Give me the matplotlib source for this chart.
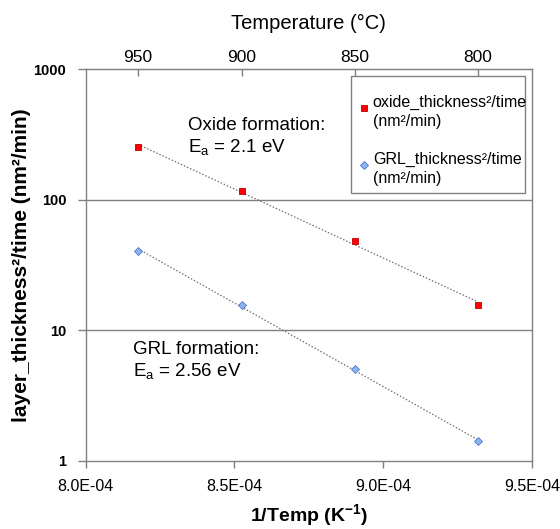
import numpy as np
import matplotlib
matplotlib.use("Agg")
import matplotlib.pyplot as plt
from matplotlib.ticker import FixedLocator, FuncFormatter, NullLocator
from matplotlib.patches import Rectangle

plt.rcParams['font.family'] = ['Liberation Sans', 'DejaVu Sans']
plt.rcParams['mathtext.fontset'] = 'custom'
plt.rcParams['mathtext.rm'] = 'Liberation Sans'
plt.rcParams['mathtext.bf'] = 'Liberation Sans:bold'

# ---- data ----
temps_c = [950, 900, 850, 800]
inv_temp = [1.0 / (t + 273.15) for t in temps_c]
oxide_rate = [255, 117, 48.3, 15.7]
grl_rate = [40.7, 15.6, 5.05, 1.41]
y_ticks = [1, 10, 100, 1000]
x_ticks = [8.0e-4, 8.5e-4, 9.0e-4, 9.5e-4]
top_ticks = [950, 900, 850, 800]

gray = '#808080'

fig = plt.figure(figsize=(5.6, 5.29), dpi=100)
ax = fig.add_axes([0.153, 0.129, 0.797, 0.740])

ax.set_yscale('log')
ax.set_ylim(1, 1000)
ax.set_xlim(8.0e-4, 9.5e-4)

# trend lines (exponential fits)
xs = np.array(inv_temp)
for vals in (oxide_rate, grl_rate):
    p = np.polyfit(xs, np.log(vals), 1)
    xx = np.linspace(xs.min(), xs.max(), 50)
    ax.plot(xx, np.exp(np.polyval(p, xx)), color='#707070', lw=0.9,
            linestyle=(0, (1.2, 1.5)), zorder=2)

ax.plot(inv_temp, oxide_rate, linestyle='none', marker='s', markersize=5,
        markerfacecolor='#ff0000', markeredgecolor='#c00000', markeredgewidth=0.6,
        label='oxide_thickness²/time\n(nm²/min)', zorder=3)
ax.plot(inv_temp, grl_rate, linestyle='none', marker='D', markersize=4.2,
        markerfacecolor='#8eb4f0', markeredgecolor='#4a78d0', markeredgewidth=0.6,
        label='GRL_thickness²/time\n(nm²/min)', zorder=3)

# grid lines
for yv in (10, 100):
    ax.axhline(yv, color=gray, lw=1.0, zorder=1)

for s in ax.spines.values():
    s.set_color(gray)
    s.set_linewidth(1.0)

ax.yaxis.set_major_locator(FixedLocator(y_ticks))
ax.yaxis.set_minor_locator(NullLocator())
ax.yaxis.set_major_formatter(FuncFormatter(lambda v, p: f"{int(round(v))}"))
ax.xaxis.set_major_locator(FixedLocator(x_ticks))
ax.xaxis.set_major_formatter(FuncFormatter(lambda v, p: f"{v*1e4:.1f}E-04"))
ax.tick_params(axis='both', color=gray, width=1.0, direction='out')
ax.tick_params(axis='y', labelsize=10.5, length=6, pad=8)
ax.tick_params(axis='x', labelsize=11.5, length=5, pad=8)
for lab in ax.get_yticklabels():
    lab.set_fontweight('bold')

ax.set_ylabel('layer_thickness²/time (nm²/min)', fontsize=15, fontweight='bold', labelpad=2)
ax.set_xlabel(r'1/Temp (K$^{\mathbf{-1}}$)', fontsize=14, fontweight='bold', labelpad=6)

# top axis (temperature)
sec = ax.secondary_xaxis('top', functions=(lambda x: 1.0 / np.asarray(x, float) - 273.15,
                                           lambda t: 1.0 / (np.asarray(t, float) + 273.15)))
sec.xaxis.set_major_locator(FixedLocator(top_ticks))
sec.xaxis.set_minor_locator(NullLocator())
sec.tick_params(axis='x', color=gray, length=5, width=1.0, direction='in', labelsize=12.5, pad=3)
sec.spines['top'].set_color(gray)
sec.set_xlabel('Temperature (°C)', fontsize=14.5, labelpad=15)

# annotations
ax.text(0.23, 0.877, 'Oxide formation:\nE$_{\\mathregular{a}}$ = 2.1 eV', transform=ax.transAxes,
        fontsize=13.5, va='top', ha='left', linespacing=1.25)
ax.text(0.105, 0.306, 'GRL formation:\nE$_{\\mathregular{a}}$ = 2.56 eV', transform=ax.transAxes,
        fontsize=13.5, va='top', ha='left', linespacing=1.25)

# legend frame drawn as a box, entries via legend
ax.add_patch(Rectangle((0.594, 0.684), 0.390, 0.299, transform=ax.transAxes,
                       facecolor='white', edgecolor=gray, lw=1.0, zorder=4))
leg = ax.legend(loc='upper left', bbox_to_anchor=(0.594, 0.954), frameon=False,
                fontsize=11.5, handlelength=0.6, handletextpad=0.28, borderpad=0.5,
                labelspacing=1.45, handleheight=2.6, borderaxespad=0)
leg.set_zorder(5)
for t in leg.get_texts():
    t.set_linespacing(1.3)

fig.savefig('out.png', dpi=100)
